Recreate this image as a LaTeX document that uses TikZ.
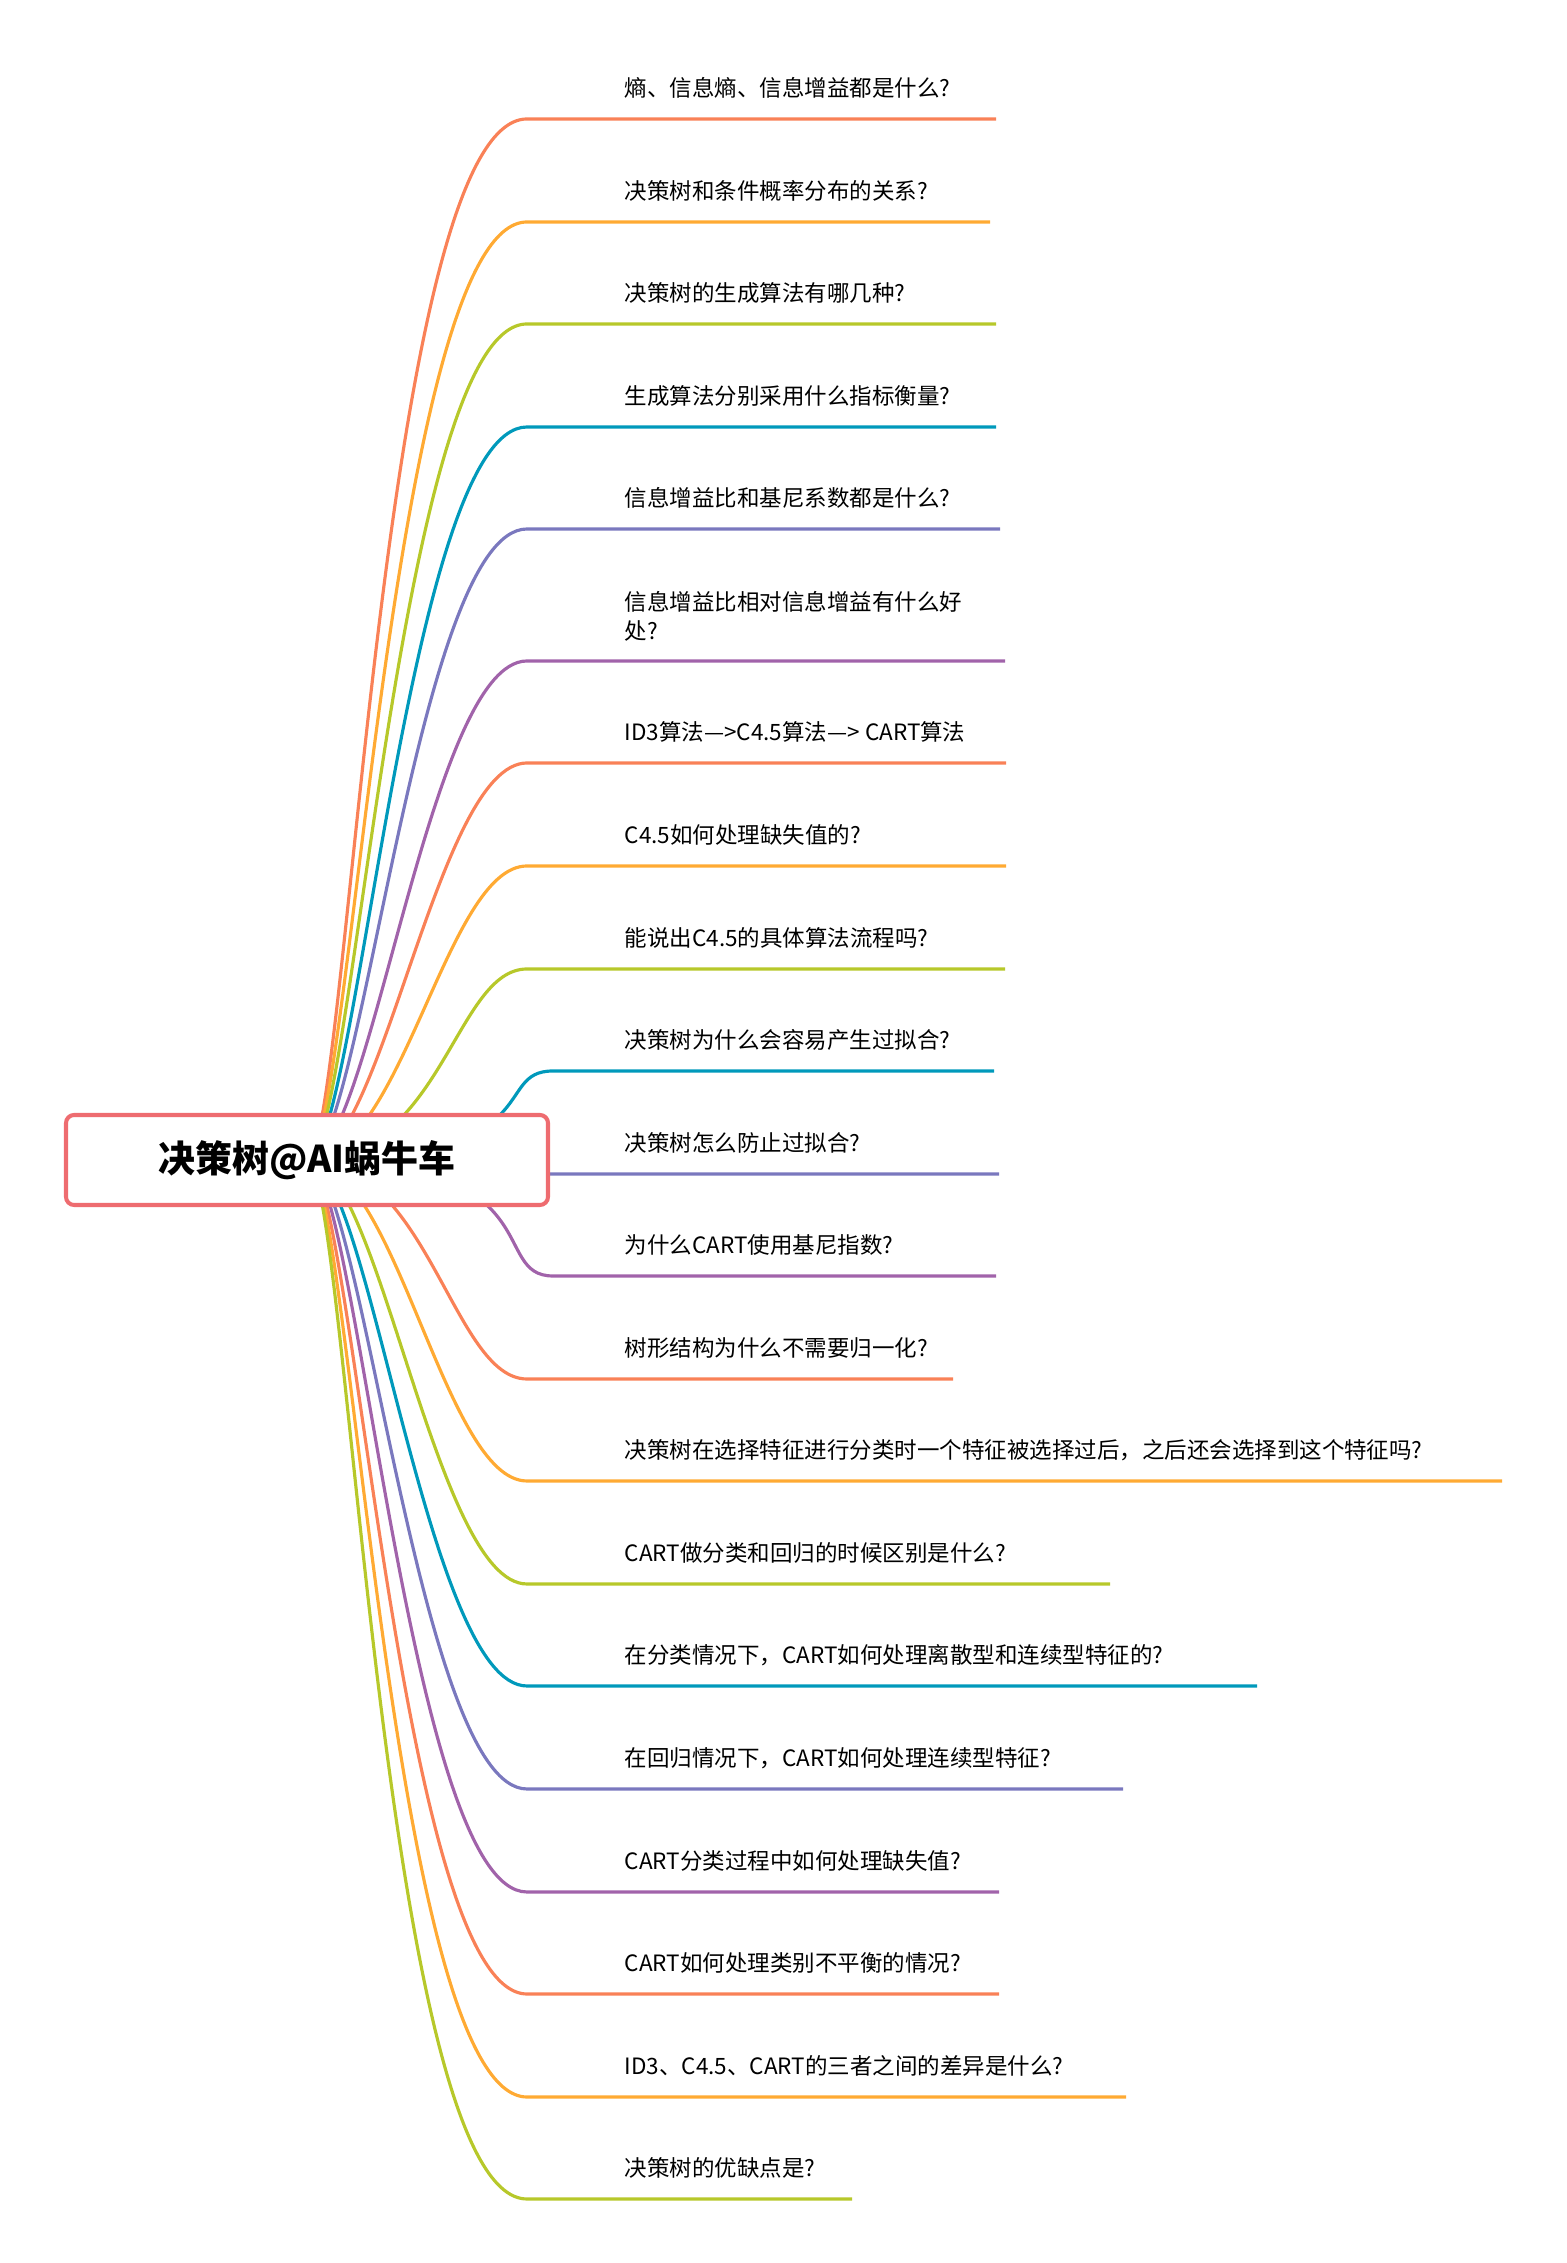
\documentclass[tikz,border=0pt]{standalone}
\usepackage{fontspec}
\setmainfont{Noto Sans CJK SC}
\usepackage{tikz}
\usetikzlibrary{backgrounds}

\definecolor{brcoral}{RGB}{249,129,87}
\definecolor{brorange}{RGB}{255,170,51}
\definecolor{brgreen}{RGB}{183,200,42}
\definecolor{brteal}{RGB}{0,153,187}
\definecolor{brslate}{RGB}{122,120,190}
\definecolor{brpurple}{RGB}{161,99,170}
\definecolor{rootred}{RGB}{238,108,112}

\begin{document}
\begin{tikzpicture}[
    rootbox/.style={
        rectangle,
        draw=rootred,
        fill=white,
        line width=1.15pt,
        rounded corners=2.3pt,
        minimum width=4.82cm,
        minimum height=0.90cm,
        font=\fontsize{10.5pt}{12pt}\selectfont\bfseries
    },
    question/.style={
        anchor=west,
        inner sep=0pt,
        align=left,
        font=\fontsize{6.4pt}{8.2pt}\selectfont
    },
    branch/.style={
        line width=0.9pt
    }
]
    \useasboundingbox (0,0) rectangle (15.66,22.63);

    % --- CENTRAL TOPIC ---
    \node[rootbox] (root) at (3.07, 11.03) {决策树@AI蜗牛车};

    % --- QUESTIONS ABOVE THE ROOT ---
    \node[question] (q1) at (6.24, 21.75) {熵、信息熵、信息增益都是什么?};
    \node[question] (q2) at (6.24, 20.72) {决策树和条件概率分布的关系?};
    \node[question] (q3) at (6.24, 19.70) {决策树的生成算法有哪几种?};
    \node[question] (q4) at (6.24, 18.67) {生成算法分别采用什么指标衡量?};
    \node[question] (q5) at (6.24, 17.65) {信息增益比和基尼系数都是什么?};
    \node[question] (q6) at (6.24, 16.465) {信息增益比相对信息增益有什么好\\处?};
    \node[question] (q7) at (6.24, 15.31) {ID3算法—>C4.5算法—> CART算法};
    \node[question] (q8) at (6.24, 14.28) {C4.5如何处理缺失值的?};
    \node[question] (q9) at (6.24, 13.25) {能说出C4.5的具体算法流程吗?};
    \node[question] (q10) at (6.24, 12.23) {决策树为什么会容易产生过拟合?};

    % --- QUESTIONS ON AND BELOW THE ROOT ---
    \node[question] (q11) at (6.24, 11.20) {决策树怎么防止过拟合?};
    \node[question] (q12) at (6.24, 10.18) {为什么CART使用基尼指数?};
    \node[question] (q13) at (6.24, 9.15) {树形结构为什么不需要归一化?};
    \node[question] (q14) at (6.24, 8.13) {决策树在选择特征进行分类时一个特征被选择过后，之后还会选择到这个特征吗?};
    \node[question] (q15) at (6.24, 7.10) {CART做分类和回归的时候区别是什么?};
    \node[question] (q16) at (6.24, 6.08) {在分类情况下，CART如何处理离散型和连续型特征的?};
    \node[question] (q17) at (6.24, 5.05) {在回归情况下，CART如何处理连续型特征?};
    \node[question] (q18) at (6.24, 4.02) {CART分类过程中如何处理缺失值?};
    \node[question] (q19) at (6.24, 3.00) {CART如何处理类别不平衡的情况?};
    \node[question] (q20) at (6.24, 1.97) {ID3、C4.5、CART的三者之间的差异是什么?};
    \node[question] (q21) at (6.24, 0.95) {决策树的优缺点是?};

    % underline start / end points
    \coordinate (s1) at (5.27, 21.44);  \coordinate (e1) at (9.96, 21.44);
    \coordinate (s2) at (5.27, 20.41);  \coordinate (e2) at (9.90, 20.41);
    \coordinate (s3) at (5.27, 19.39);  \coordinate (e3) at (9.96, 19.39);
    \coordinate (s4) at (5.27, 18.36);  \coordinate (e4) at (9.96, 18.36);
    \coordinate (s5) at (5.27, 17.34);  \coordinate (e5) at (10.00, 17.34);
    \coordinate (s6) at (5.27, 16.02);  \coordinate (e6) at (10.05, 16.02);
    \coordinate (s7) at (5.27, 15.00);  \coordinate (e7) at (10.06, 15.00);
    \coordinate (s8) at (5.27, 13.97);  \coordinate (e8) at (10.06, 13.97);
    \coordinate (s9) at (5.27, 12.94);  \coordinate (e9) at (10.05, 12.94);
    \coordinate (s10) at (5.53, 11.92); \coordinate (e10) at (9.94, 11.92);
    \coordinate (s11) at (5.53, 10.89); \coordinate (e11) at (9.99, 10.89);
    \coordinate (s12) at (5.53, 9.87);  \coordinate (e12) at (9.96, 9.87);
    \coordinate (s13) at (5.27, 8.84);  \coordinate (e13) at (9.53, 8.84);
    \coordinate (s14) at (5.27, 7.82);  \coordinate (e14) at (15.02, 7.82);
    \coordinate (s15) at (5.27, 6.79);  \coordinate (e15) at (11.10, 6.79);
    \coordinate (s16) at (5.27, 5.77);  \coordinate (e16) at (12.57, 5.77);
    \coordinate (s17) at (5.27, 4.74);  \coordinate (e17) at (11.23, 4.74);
    \coordinate (s18) at (5.27, 3.71);  \coordinate (e18) at (9.99, 3.71);
    \coordinate (s19) at (5.27, 2.69);  \coordinate (e19) at (9.99, 2.69);
    \coordinate (s20) at (5.27, 1.66);  \coordinate (e20) at (11.26, 1.66);
    \coordinate (s21) at (5.27, 0.64);  \coordinate (e21) at (8.52, 0.64);

    % Curved branches, hidden behind the root box
    \begin{scope}[on background layer]
        \draw[branch, brcoral] (root.center) .. controls (3.48, 11.03) and (3.80, 21.44) .. (s1) -- (e1);
        \draw[branch, brorange] (root.center) .. controls (3.50, 11.03) and (3.90, 20.41) .. (s2) -- (e2);
        \draw[branch, brgreen] (root.center) .. controls (3.53, 11.03) and (3.98, 19.39) .. (s3) -- (e3);
        \draw[branch, brteal] (root.center) .. controls (3.57, 11.03) and (4.07, 18.36) .. (s4) -- (e4);
        \draw[branch, brslate] (root.center) .. controls (3.62, 11.03) and (4.16, 17.34) .. (s5) -- (e5);
        \draw[branch, brpurple] (root.center) .. controls (3.71, 11.03) and (4.28, 16.02) .. (s6) -- (e6);
        \draw[branch, brcoral] (root.center) .. controls (3.82, 11.03) and (4.37, 15.00) .. (s7) -- (e7);
        \draw[branch, brorange] (root.center) .. controls (4.02, 11.03) and (4.46, 13.97) .. (s8) -- (e8);
        \draw[branch, brgreen] (root.center) .. controls (4.42, 11.03) and (4.55, 12.94) .. (s9) -- (e9);
        \draw[branch, brteal] (root.center) .. controls (5.55, 11.03) and (4.90, 11.92) .. (s10) -- (e10);
        \draw[branch, brslate] (root.center) .. controls (5.55, 11.03) and (4.97, 10.89) .. (s11) -- (e11);
        \draw[branch, brpurple] (root.center) .. controls (5.55, 11.03) and (4.88, 9.87) .. (s12) -- (e12);
        \draw[branch, brcoral] (root.center) .. controls (4.28, 11.03) and (4.53, 8.84) .. (s13) -- (e13);
        \draw[branch, brorange] (root.center) .. controls (3.96, 11.03) and (4.44, 7.82) .. (s14) -- (e14);
        \draw[branch, brgreen] (root.center) .. controls (3.79, 11.03) and (4.35, 6.79) .. (s15) -- (e15);
        \draw[branch, brteal] (root.center) .. controls (3.69, 11.03) and (4.26, 5.77) .. (s16) -- (e16);
        \draw[branch, brslate] (root.center) .. controls (3.62, 11.03) and (4.17, 4.74) .. (s17) -- (e17);
        \draw[branch, brpurple] (root.center) .. controls (3.57, 11.03) and (4.08, 3.71) .. (s18) -- (e18);
        \draw[branch, brcoral] (root.center) .. controls (3.53, 11.03) and (3.99, 2.69) .. (s19) -- (e19);
        \draw[branch, brorange] (root.center) .. controls (3.50, 11.03) and (3.90, 1.66) .. (s20) -- (e20);
        \draw[branch, brgreen] (root.center) .. controls (3.48, 11.03) and (3.81, 0.64) .. (s21) -- (e21);
    \end{scope}

\end{tikzpicture}
\end{document}
